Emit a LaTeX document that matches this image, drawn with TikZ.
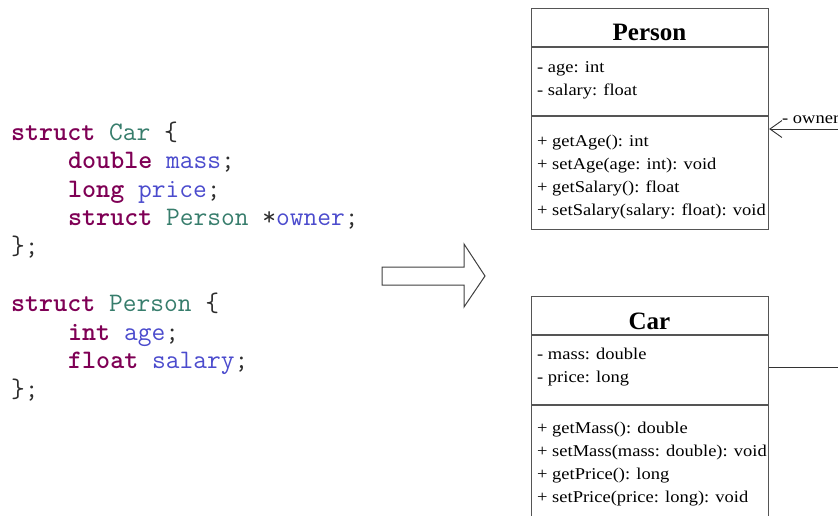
\documentclass[tikz,border=0pt]{standalone}
\usepackage{fontspec}
\setmainfont{Liberation Serif}
\newfontfamily\memberfont{Liberation Serif}[FakeStretch=1.12]
\usetikzlibrary{arrows.meta}

\definecolor{kwcol}{RGB}{127,0,85}
\definecolor{typecol}{RGB}{55,125,108}
\definecolor{fieldcol}{RGB}{75,75,205}
\definecolor{punccol}{RGB}{45,45,45}
\definecolor{edgecol}{RGB}{85,85,85}

% syntax colouring helpers for the C listing
\newcommand\ckw[1]{{\bfseries\color{kwcol}#1}}
\newcommand\cty[1]{{\color{typecol}#1}}
\newcommand\cfd[1]{{\color{fieldcol}#1}}

\begin{document}
\begin{tikzpicture}[x=1pt,y=-1pt,
  codeline/.style={anchor=base west, inner sep=0pt, text=punccol,
    font=\ttfamily\fontsize{26.7}{30}\selectfont},
  classbox/.style={draw=edgecol, line width=1.2pt, anchor=north west,
    minimum width=237pt, inner sep=0pt},
  divider/.style={draw=edgecol, line width=1.2pt},
  classtitle/.style={anchor=base, inner sep=0pt,
    font=\bfseries\fontsize{25}{30}\selectfont},
  member/.style={anchor=base west, inner sep=0pt,
    font=\memberfont\fontsize{16.5}{20}\selectfont},
  assoc/.style={draw=black!80, line width=0.9pt},
]
\useasboundingbox (0,0) rectangle (838,515);

% ---- C source listing ----
\node[codeline] (c1) at (11,140) {\ckw{struct} \cty{Car} \{};
\node[codeline] (c2) at (68,168) {\ckw{double} \cfd{mass};};
\node[codeline] (c3) at (68,197) {\ckw{long} \cfd{price};};
\node[codeline] (c4) at (68,225) {\ckw{struct} \cty{Person} *\cfd{owner};};
\node[codeline] (c5) at (11,254) {\};};
\node[codeline] (c6) at (11,311) {\ckw{struct} \cty{Person} \{};
\node[codeline] (c7) at (68,340) {\ckw{int} \cfd{age};};
\node[codeline] (c8) at (68,368) {\ckw{float} \cfd{salary};};
\node[codeline] (c9) at (11,397) {\};};

% ---- hollow block arrow ----
\draw[draw=black!75, line width=1pt, fill=white]
  (382,267) -- (464,267) -- (464,244) -- (485,276) -- (464,307)
  -- (464,285) -- (382,285) -- cycle;

% ---- class Person ----
\node[classbox, minimum height=221pt] (person) at (531,8) {};
\draw[divider] ([yshift=-39pt]person.north west) -- ([yshift=-39pt]person.north east);
\draw[divider] ([yshift=-108pt]person.north west) -- ([yshift=-108pt]person.north east);
\node[classtitle] (ptitle) at (649.5,40) {Person};
\node[member] (pa1) at (537,72) {- age: int};
\node[member] (pa2) at (537,95) {- salary: float};
\node[member] (pm1) at (537,146) {+ getAge(): int};
\node[member] (pm2) at (537,169) {+ setAge(age: int): void};
\node[member] (pm3) at (537,192) {+ getSalary(): float};
\node[member] (pm4) at (537,215) {+ setSalary(salary: float): void};

% ---- class Car (runs past the lower edge) ----
\node[classbox, minimum height=236pt] (car) at (531,296) {};
\draw[divider] ([yshift=-39pt]car.north west) -- ([yshift=-39pt]car.north east);
\draw[divider] ([yshift=-109pt]car.north west) -- ([yshift=-109pt]car.north east);
\node[classtitle] (ctitle) at (649.5,329) {Car};
\node[member] (ca1) at (537,359) {- mass: double};
\node[member] (ca2) at (537,382) {- price: long};
\node[member] (cm1) at (537,433) {+ getMass(): double};
\node[member] (cm2) at (537,456) {+ setMass(mass: double): void};
\node[member] (cm3) at (537,479) {+ getPrice(): long};
\node[member] (cm4) at (537,502) {+ setPrice(price: long): void};

% ---- association Car -> Person (owner) ----
\coordinate (bendlow) at (850,367);
\coordinate (bendhigh) at (850,129);
\draw[assoc, -{Straight Barb[length=12pt,width=17pt]}]
  (car.north east |- bendlow) -- (bendlow) -- (bendhigh) -- (person.north east |- bendhigh);
\node[member] (ownerlbl) at (782,123) {- owner};
\end{tikzpicture}
\end{document}
